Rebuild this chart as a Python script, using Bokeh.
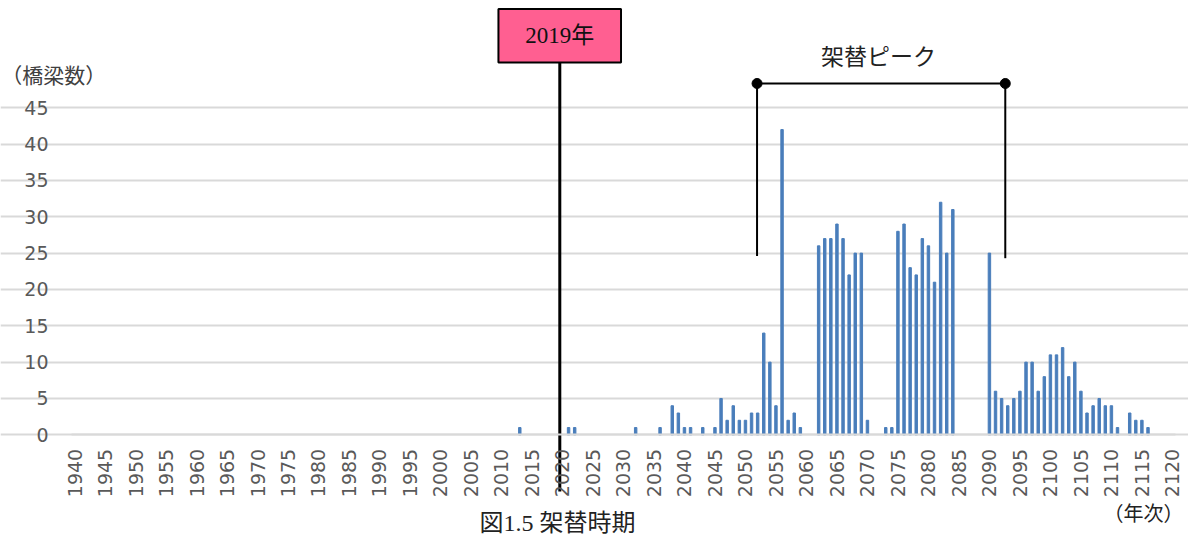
from bokeh.plotting import figure
from bokeh.models import Range1d, FixedTicker, Label
from bokeh.core.properties import value
from bokeh.embed import file_html
from bokeh.resources import INLINE
import math

# ---- data ----
years = [2013, 2021, 2022, 2032, 2036, 2038, 2039, 2040, 2041, 2043, 2045, 2046, 2047,
         2048, 2049, 2050, 2051, 2052, 2053, 2054, 2055, 2056, 2057, 2058, 2059,
         2062, 2063, 2064, 2065, 2066, 2067, 2068, 2069, 2070,
         2073, 2074, 2075, 2076, 2077, 2078, 2079, 2080, 2081, 2082, 2083, 2084,
         2090, 2091, 2092, 2093, 2094, 2095, 2096, 2097, 2098, 2099, 2100, 2101,
         2102, 2103, 2104, 2105, 2106, 2107, 2108, 2109, 2110, 2111,
         2113, 2114, 2115, 2116]
bridges = [1, 1, 1, 1, 1, 4, 3, 1, 1, 1, 1, 5, 2,
           4, 2, 2, 3, 3, 14, 10, 4, 42, 2, 3, 1,
           26, 27, 27, 29, 27, 22, 25, 25, 2,
           1, 1, 28, 29, 23, 22, 27, 26, 21, 32, 25, 31,
           25, 6, 5, 4, 5, 6, 10, 10, 6, 8, 11, 11,
           12, 8, 10, 6, 3, 4, 5, 4, 4, 1,
           3, 2, 2, 1]
x_ticks = list(range(1940, 2121, 5))
y_ticks = list(range(0, 46, 5))
current_year_label = "2019年"
peak_label = "架替ピーク"
y_title = "（橋梁数）"
x_title = "（年次）"
caption = "図1.5 架替時期"

# plot-area extent (category axis 1940..2120) and annotation anchors in data units
x_lo, x_hi = 1939.5, 2120.5
now_x = 2019.56
peak_start, peak_end = 2051.9, 2092.6

SERIF = value("'Liberation Serif', 'Noto Sans CJK JP'")
SERIF_S = "'Liberation Serif', 'Noto Sans CJK JP'"

p = figure(width=1188, height=537, output_backend="svg", toolbar_location=None,
           x_range=Range1d(1927.86, 2122.64), y_range=Range1d(-14.13, 59.76),
           min_border_left=0, min_border_right=0, min_border_top=0, min_border_bottom=0)
p.outline_line_color = None
p.background_fill_color = "white"

p.vbar(x=years, top=bridges, width=0.4, bottom=0, color="#4A7EBB")

# axes placed at fixed data locations so the frame can hold every annotation
p.xaxis.fixed_location = 0
p.xaxis.bounds = (x_lo, x_hi)
p.xaxis.ticker = FixedTicker(ticks=x_ticks)
p.xaxis.major_label_orientation = math.pi / 2
p.xaxis.major_label_text_font = "DejaVu Sans"
p.xaxis.major_label_text_font_size = "19px"
p.xaxis.major_label_text_color = "#595959"
p.xaxis.major_tick_line_color = None
p.xaxis.major_tick_out = 0
p.xaxis.major_tick_in = 0
p.xaxis.minor_tick_line_color = None
p.xaxis.axis_line_color = "#D9D9D9"
p.xaxis.axis_line_width = 2
p.xaxis.major_label_standoff = 14

p.yaxis.fixed_location = x_lo
p.yaxis.bounds = (0, 45)
p.yaxis.ticker = FixedTicker(ticks=y_ticks)
p.yaxis.major_label_text_font = "DejaVu Sans"
p.yaxis.major_label_text_font_size = "19px"
p.yaxis.major_label_text_color = "#595959"
p.yaxis.major_tick_line_color = None
p.yaxis.major_tick_out = 0
p.yaxis.major_tick_in = 0
p.yaxis.minor_tick_line_color = None
p.yaxis.axis_line_color = None
p.yaxis.major_label_standoff = 23

p.xgrid.grid_line_color = None
p.ygrid.ticker = FixedTicker(ticks=y_ticks)
p.ygrid.bounds = (x_lo, x_hi)
p.ygrid.grid_line_color = "#D9D9D9"
p.ygrid.grid_line_width = 2

# peak bracket
p.segment(x0=[peak_start, peak_start, peak_end], y0=[48.34, 48.34, 48.34],
          x1=[peak_end, peak_start, peak_end], y1=[48.34, 24.6, 24.3],
          line_color="black", line_width=2)
p.scatter(x=[peak_start, peak_end], y=[48.34, 48.34], size=10, color="black")
p.text(x=[2071.8], y=[51.85], text=[peak_label], text_font=SERIF,
       text_font_size="23px", text_align="center", text_baseline="middle", text_color="#222222")

# current-year marker
p.segment(x0=[now_x], y0=[51.2], x1=[now_x], y1=[-7.8], line_color="black", line_width=3)
p.quad(left=[2009.5], right=[2029.6], top=[58.6], bottom=[51.23],
       fill_color="#FF5F91", line_color="black", line_width=2)
p.text(x=[now_x], y=[54.9], text=[current_year_label], text_font=SERIF,
       text_font_size="23px", text_align="center", text_baseline="middle", text_color="#111111")

# titles / caption
p.add_layout(Label(x=1928.0, y=49.6, text=y_title, text_font="Noto Sans CJK JP",
                   text_font_size="21px", text_align="left", text_baseline="middle",
                   text_color="#404040"))
p.add_layout(Label(x=2115.26, y=-10.83, text=x_title, text_font=SERIF_S,
                   text_font_size="20px", text_align="center", text_baseline="middle",
                   text_color="#222222"))
p.add_layout(Label(x=2019.2, y=-12.1, text=caption, text_font=SERIF_S,
                   text_font_size="24px", text_align="center", text_baseline="middle",
                   text_color="#222222"))

open("out.html", "w").write(file_html(p, INLINE))
